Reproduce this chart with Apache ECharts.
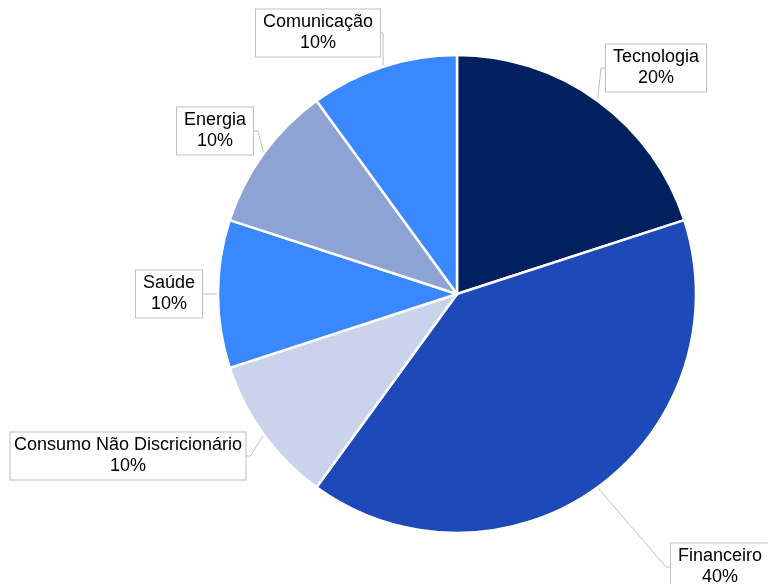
<!DOCTYPE html>
<html><head><meta charset="utf-8">
<script src="https://cdn.jsdelivr.net/npm/echarts@6/dist/echarts.min.js"></script>
<style>html,body{margin:0;padding:0;background:#fff}#c{width:768px;height:584px}</style>
</head><body><div id="c"></div>
<script>
var categories = ['Tecnologia','Financeiro','Consumo Não Discricionário','Saúde','Energia','Comunicação'];
var values = [20,40,10,10,10,10];
var colors = ['#002060','#1E49B9','#C9D3EC','#3A88FF','#8FA2D4','#3A88FF'];
var labelPos = [[656,68],[720,567],[128,456],[169,294],[215,131],[318,33]];

var chart = echarts.init(document.getElementById('c'));
chart.setOption({
  animation:false,
  series:[{
    type:'pie',
    center:[457,294],
    radius:239,
    startAngle:90,
    clockwise:true,
    data: categories.map(function(n,i){return {name:n,value:values[i],itemStyle:{color:colors[i]}};}),
    itemStyle:{borderColor:'#fff',borderWidth:2.5},
    label:{
      formatter:'{b}\n{c}%',
      fontFamily:'Liberation Sans, Arial, sans-serif',
      fontSize:18,
      lineHeight:21,
      color:'#000',
      align:'center',
      overflow:'none',
      backgroundColor:'#fff',
      borderColor:'#BFBFBF',
      borderWidth:1,
      padding:[3,7,2,7]
    },
    labelLine:{show:true,lineStyle:{color:'#BFBFBF',width:1},length:12,length2:4},
    emphasis:{disabled:true}
  }]
});
chart.setOption({series:[{labelLayout:function(p){
  var pos = labelPos[p.dataIndex];
  return {x:pos[0], y:pos[1], align:'center', verticalAlign:'middle'};
}}]});
</script></body></html>
